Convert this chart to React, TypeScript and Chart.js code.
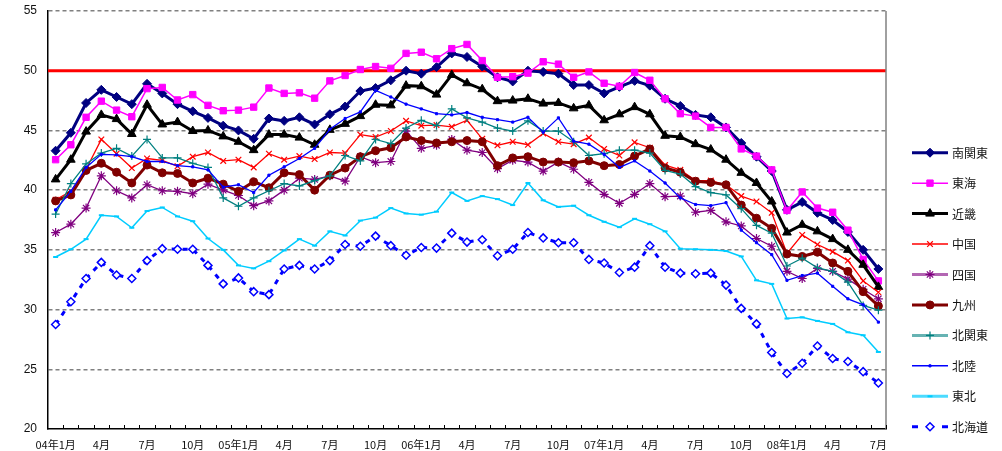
import React, { useEffect, useRef } from 'react';
import { Chart, registerables } from 'chart.js';
import { drawPoint } from 'chart.js/helpers';

Chart.register(...registerables);

const categories = [
  '04年1月', '2月', '3月', '4月', '5月', '6月', '7月', '8月', '9月', '10月', '11月', '12月',
  '05年1月', '2月', '3月', '4月', '5月', '6月', '7月', '8月', '9月', '10月', '11月', '12月',
  '06年1月', '2月', '3月', '4月', '5月', '6月', '7月', '8月', '9月', '10月', '11月', '12月',
  '07年1月', '2月', '3月', '4月', '5月', '6月', '7月', '8月', '9月', '10月', '11月', '12月',
  '08年1月', '2月', '3月', '4月', '5月', '6月', '7月',
];

const seriesNames = ['南関東', '東海', '近畿', '中国', '四国', '九州', '北関東', '北陸', '東北', '北海道'];

const minamiKanto = [
  43.3, 44.8, 47.3, 48.4, 47.8, 47.2, 48.9, 48.1, 47.2, 46.6,
  46.05, 45.4, 45.0, 44.3, 46.0, 45.8, 46.1, 45.5, 46.35, 47.0,
  48.3, 48.55, 49.2, 50.0, 49.75, 50.3, 51.45, 51.15, 50.35, 49.45,
  49.1, 50.0, 49.9, 49.75, 48.8, 48.8, 48.1, 48.65, 49.15, 48.75,
  47.65, 47.05, 46.3, 46.1, 45.25, 43.95, 42.8, 41.6, 38.35, 39.0,
  38.1, 37.5, 36.5, 35.0, 33.4,
];
const tokai = [
  42.55, 43.8, 46.1, 47.45, 46.7, 46.15, 48.5, 48.6, 47.55, 48.0,
  47.1, 46.65, 46.7, 46.95, 48.55, 48.1, 48.15, 47.7, 49.15, 49.6,
  50.1, 50.35, 50.2, 51.45, 51.55, 51.0, 51.85, 52.2, 50.85, 49.45,
  49.5, 49.8, 50.75, 50.55, 49.45, 49.9, 48.95, 48.7, 49.85, 49.2,
  47.65, 46.4, 46.2, 45.25, 45.25, 43.45, 42.85, 41.7, 38.3, 39.85,
  38.5, 38.15, 36.65, 34.2, 32.4,
];
const kinki = [
  40.9, 42.55, 44.9, 46.3, 45.95, 44.7, 47.15, 45.5, 45.7, 44.95,
  45.0, 44.5, 44.05, 43.35, 44.65, 44.65, 44.4, 43.8, 45.05, 45.55,
  46.2, 47.15, 47.1, 48.75, 48.7, 48.0, 49.65, 48.95, 48.45, 47.45,
  47.5, 47.65, 47.25, 47.3, 46.85, 47.1, 45.85, 46.35, 46.95, 46.35,
  44.55, 44.45, 43.85, 43.4, 42.55, 41.45, 40.6, 39.05, 36.45, 37.1,
  36.55, 35.9, 35.0, 33.75, 31.9,
];
const chugoku = [
  39.2, 39.9, 41.75, 44.25, 43.05, 41.85, 42.65, 42.5, 42.0, 42.8,
  43.15, 42.45, 42.55, 41.9, 43.05, 42.55, 42.85, 42.6, 43.15, 43.1,
  44.65, 44.45, 44.95, 45.8, 45.4, 45.45, 45.3, 45.85, 44.3, 43.75,
  44.05, 43.8, 44.75, 44.05, 43.85, 44.4, 43.45, 42.9, 44.0, 43.55,
  42.1, 41.7, 40.8, 40.8, 40.45, 39.5, 39.05, 38.1, 34.7, 36.25,
  35.45, 34.85, 34.1, 32.4, 31.45,
];
const shikoku = [
  36.45, 37.15, 38.5, 41.2, 39.95, 39.35, 40.45, 39.95, 39.9, 39.7,
  40.5, 40.0, 39.55, 38.7, 39.1, 40.0, 41.0, 40.9, 41.2, 40.75,
  42.8, 42.3, 42.4, 44.95, 43.5, 43.75, 44.25, 43.35, 43.15, 41.8,
  42.5, 42.35, 41.6, 42.35, 41.75, 40.65, 39.65, 38.9, 39.65, 40.55,
  39.45, 39.5, 38.15, 38.3, 37.35, 37.0, 35.95, 35.3, 33.2, 32.6,
  33.45, 33.2, 32.55, 31.7, 30.9,
];
const kyushu = [
  39.1, 39.6, 41.65, 42.25, 41.5, 40.6, 42.1, 41.45, 41.4, 40.6,
  41.0, 40.5, 39.9, 40.7, 40.2, 41.45, 41.3, 40.0, 41.25, 41.85,
  42.8, 43.3, 43.55, 44.45, 44.15, 43.95, 44.05, 44.15, 44.05, 42.05,
  42.7, 42.8, 42.35, 42.35, 42.3, 42.45, 42.05, 42.15, 42.85, 43.45,
  41.85, 41.5, 40.75, 40.65, 40.45, 38.75, 37.65, 36.8, 34.65, 34.45,
  34.8, 33.9, 33.2, 31.5, 30.3,
];
const kitaKanto = [
  38.0, 40.55, 42.2, 43.1, 43.5, 42.85, 44.25, 42.7, 42.7, 42.25,
  41.9, 39.35, 38.65, 39.35, 39.95, 40.55, 40.35, 40.8, 41.2, 42.9,
  42.45, 44.25, 43.9, 45.2, 45.85, 45.4, 46.8, 46.05, 45.7, 45.2,
  44.95, 45.8, 44.95, 44.95, 44.05, 42.9, 43.05, 43.35, 43.35, 43.1,
  41.65, 41.35, 40.3, 39.8, 39.6, 38.45, 37.05, 36.4, 33.65, 34.3,
  33.5, 33.2, 32.3, 30.35, 29.95,
];
const hokuriku = [
  38.35, 39.9, 41.9, 43.0, 42.95, 42.8, 42.4, 42.4, 42.05, 41.95,
  41.7, 40.25, 40.45, 39.8, 41.25, 41.95, 42.65, 43.5, 45.1, 46.0,
  46.55, 48.35, 47.8, 47.2, 46.8, 46.4, 46.3, 46.5, 46.1, 45.9,
  45.7, 46.1, 44.85, 46.05, 44.1, 43.85, 43.0, 41.9, 42.45, 41.6,
  40.6, 39.35, 38.8, 38.7, 38.95, 36.65, 35.6, 34.6, 32.45, 32.85,
  33.05, 31.95, 30.9, 30.4, 28.95,
];
const tohoku = [
  34.4, 35.05, 35.9, 37.9, 37.8, 36.85, 38.25, 38.55, 37.8, 37.4,
  35.95, 35.0, 33.7, 33.45, 34.05, 34.95, 35.9, 35.35, 36.55, 36.2,
  37.45, 37.7, 38.5, 38.05, 37.95, 38.2, 39.8, 39.1, 39.5, 39.25,
  38.75, 40.6, 39.15, 38.6, 38.7, 37.9, 37.35, 36.9, 37.6, 37.15,
  36.55, 35.1, 35.05, 35.0, 34.9, 34.45, 32.45, 32.15, 29.25, 29.35,
  29.05, 28.8, 28.1, 27.85, 26.45,
];
const hokkaido = [
  28.75, 30.65, 32.6, 33.95, 32.9, 32.6, 34.1, 35.1, 35.05, 35.05,
  33.7, 32.15, 32.65, 31.5, 31.25, 33.4, 33.7, 33.4, 34.1, 35.45,
  35.3, 36.15, 35.35, 34.55, 35.2, 35.15, 36.4, 35.65, 35.85, 34.5,
  35.05, 36.45, 36.0, 35.6, 35.6, 34.2, 33.9, 33.1, 33.55, 35.35,
  33.55, 33.05, 33.0, 33.05, 32.05, 30.1, 28.8, 26.4, 24.65, 25.5,
  26.95, 25.9, 25.65, 24.8, 23.85,
];

const seriesValues = [minamiKanto, tokai, kinki, chugoku, shikoku, kyushu, kitaKanto, hokuriku, tohoku, hokkaido];

const yMin = 20;
const yMax = 55;
const yStep = 5;
const referenceLevel = 50;

type Style = {
  color: string;
  fill: string;
  width: number;
  point: string;
  radius: number;
  pbw: number;
  dash?: number[];
  legendWidth: number;
  legendAlpha: number;
  legendDash?: number[];
};

const styles: Style[] = [
  { color: '#000080', fill: '#000080', width: 3, point: 'rectRot', radius: 4.5, pbw: 1, legendWidth: 3, legendAlpha: 1 },
  { color: '#FF00FF', fill: '#FF00FF', width: 1.5, point: 'rect', radius: 4.5, pbw: 1, legendWidth: 1.5, legendAlpha: 1 },
  { color: '#000000', fill: '#000000', width: 3, point: 'triangle', radius: 5, pbw: 1, legendWidth: 3, legendAlpha: 1 },
  { color: '#FF0000', fill: '#FF0000', width: 1.3, point: 'crossRot', radius: 4, pbw: 1.2, legendWidth: 1.5, legendAlpha: 1 },
  { color: '#800080', fill: '#800080', width: 1.3, point: 'star', radius: 4.5, pbw: 1.2, legendWidth: 3, legendAlpha: 0.6 },
  { color: '#800000', fill: '#800000', width: 3, point: 'circle', radius: 4, pbw: 1, legendWidth: 3, legendAlpha: 1 },
  { color: '#008080', fill: '#008080', width: 1.3, point: 'cross', radius: 4, pbw: 1.2, legendWidth: 3, legendAlpha: 0.6 },
  { color: '#0000FF', fill: '#0000FF', width: 1.3, point: 'rect', radius: 1.5, pbw: 1, legendWidth: 1.5, legendAlpha: 1 },
  { color: '#00CCFF', fill: '#00CCFF', width: 1.5, point: 'line', radius: 2.5, pbw: 2, legendWidth: 3, legendAlpha: 0.7 },
  { color: '#0000FF', fill: '#FFFFFF', width: 3, point: 'rectRot', radius: 4, pbw: 1.5, dash: [5, 6], legendWidth: 3, legendAlpha: 1, legendDash: [6, 9] },
];

const overlayPlugin = {
  id: 'overlay',
  beforeDatasetsDraw(chart: any) {
    const { ctx, chartArea } = chart;
    const yScale = chart.scales.y;
    const y = yScale.getPixelForValue(referenceLevel);
    ctx.save();
    ctx.strokeStyle = '#FF0000';
    ctx.lineWidth = 3;
    ctx.beginPath();
    ctx.moveTo(chartArea.left, y);
    ctx.lineTo(chartArea.right, y);
    ctx.stroke();
    ctx.strokeStyle = '#808080';
    ctx.lineWidth = 1.5;
    ctx.beginPath();
    ctx.moveTo(chartArea.right, chartArea.top);
    ctx.lineTo(chartArea.right, chartArea.bottom);
    ctx.stroke();
    ctx.strokeStyle = '#000000';
    ctx.lineWidth = 1;
    const n = categories.length;
    const w = (chartArea.right - chartArea.left) / n;
    ctx.beginPath();
    for (let i = 1; i <= n; i++) {
      const x = Math.round(chartArea.left + i * w) + 0.5;
      ctx.moveTo(x, chartArea.bottom);
      ctx.lineTo(x, chartArea.bottom - 4);
    }
    ctx.stroke();
    ctx.restore();
  },
  afterDraw(chart: any) {
    const { ctx } = chart;
    const x0 = 912;
    const x1 = 948;
    const xm = (x0 + x1) / 2;
    const textX = 952;
    const yStart = 152.7;
    const rowStep = 30.45;
    ctx.save();
    seriesNames.forEach((name, i) => {
      const s = styles[i];
      const y = yStart + i * rowStep;
      ctx.save();
      ctx.globalAlpha = s.legendAlpha;
      ctx.strokeStyle = s.color;
      ctx.lineWidth = s.legendWidth;
      ctx.setLineDash(s.legendDash || []);
      ctx.beginPath();
      ctx.moveTo(x0, y);
      ctx.lineTo(x1, y);
      ctx.stroke();
      ctx.restore();
      ctx.save();
      ctx.setLineDash([]);
      ctx.fillStyle = s.fill;
      ctx.strokeStyle = s.color;
      ctx.lineWidth = s.pbw;
      drawPoint(ctx, { pointStyle: s.point as any, rotation: 0, radius: s.radius, borderWidth: s.pbw }, xm, y);
      ctx.restore();
      ctx.fillStyle = '#111111';
      ctx.font = '12px "Noto Sans CJK JP", sans-serif';
      ctx.textBaseline = 'middle';
      ctx.textAlign = 'left';
      ctx.fillText(name, textX, y + 0.5);
    });
    ctx.restore();
  },
};

export default function App() {
  const canvasRef = useRef<HTMLCanvasElement | null>(null);

  useEffect(() => {
    if (!canvasRef.current) return;
    const datasets = seriesNames.map((name, i) => {
      const s = styles[i];
      return {
        label: name,
        data: seriesValues[i],
        borderColor: s.color,
        backgroundColor: s.fill,
        borderWidth: s.width,
        borderDash: s.dash || [],
        pointStyle: s.point,
        pointRadius: s.radius,
        pointBorderWidth: s.pbw,
        pointBorderColor: s.color,
        pointBackgroundColor: s.fill,
        tension: 0,
        fill: false,
        order: seriesNames.length - i,
      };
    });

    const chart = new Chart(canvasRef.current, {
      type: 'line',
      data: { labels: categories, datasets: datasets as any },
      options: {
        responsive: false,
        animation: false,
        devicePixelRatio: 1,
        layout: { padding: { top: 11, right: 116, left: 0, bottom: 0 } },
        plugins: {
          legend: { display: false },
          tooltip: { enabled: false },
        },
        scales: {
          x: {
            type: 'category',
            offset: true,
            grid: { display: false, drawTicks: false },
            border: { display: true, color: '#000000', width: 1.5 },
            ticks: {
              autoSkip: false,
              maxRotation: 0,
              minRotation: 0,
              padding: 9,
              color: '#111111',
              font: { family: '"Noto Sans CJK JP", sans-serif', size: 11 },
              callback: (_v: any, index: number) => (index % 3 === 0 ? categories[index] : ''),
            },
            afterFit: (scale: any) => {
              scale.height = 22;
              scale.paddingLeft = 0;
              scale.paddingRight = 0;
            },
          },
          y: {
            min: yMin,
            max: yMax,
            grid: {
              drawTicks: false,
              color: (c: any) => (c.tick && c.tick.value === yMin ? 'rgba(0,0,0,0)' : '#808080'),
              lineWidth: 1.5,
            },
            border: { display: true, color: '#000000', width: 1.5, dash: [4, 3] } as any,
            ticks: {
              stepSize: yStep,
              padding: 11,
              color: '#111111',
              font: { family: '"Liberation Sans", Arial, sans-serif', size: 12 },
            },
            afterFit: (scale: any) => {
              scale.width = 48;
              scale.paddingTop = 0;
              scale.paddingBottom = 0;
            },
          },
        },
      },
      plugins: [overlayPlugin],
    });
    return () => chart.destroy();
  }, []);

  return (
    <div style={{ position: 'absolute', left: 0, top: 0, width: 1002, height: 451, background: '#ffffff' }}>
      <canvas ref={canvasRef} width={1002} height={451} style={{ display: 'block' }} />
    </div>
  );
}
